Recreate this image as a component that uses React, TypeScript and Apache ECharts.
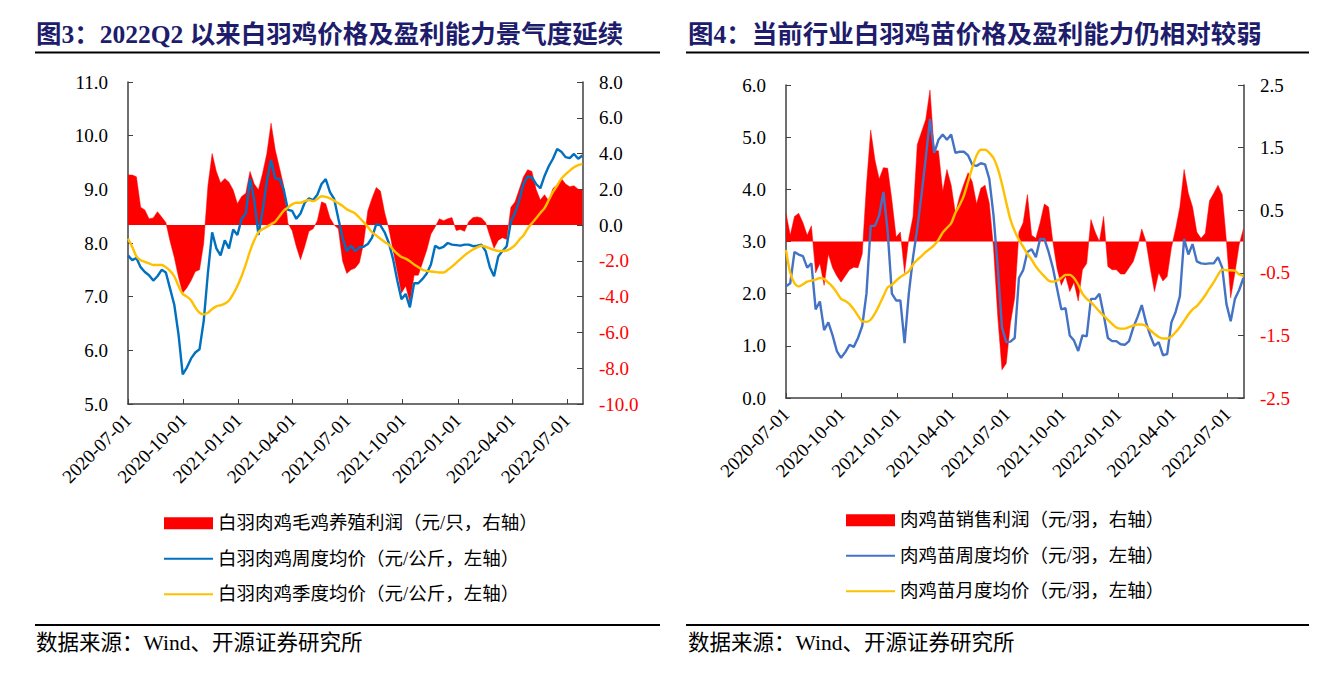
import React, { useEffect, useRef } from "react";
import * as echarts from "echarts";

// ---------- data ----------
const START = [2020, 6, 1];
const N_WEEKS = 109;
const weekDates: number[] = Array.from({ length: N_WEEKS }, (_, i) => +new Date(START[0], START[1], START[2] + 7 * i));
const quarterTicks: number[] = [
  +new Date(2020, 6, 1), +new Date(2020, 9, 1), +new Date(2021, 0, 1), +new Date(2021, 3, 1),
  +new Date(2021, 6, 1), +new Date(2021, 9, 1), +new Date(2022, 0, 1), +new Date(2022, 3, 1),
  +new Date(2022, 6, 1),
];
const xMin = +new Date(2020, 6, 1);
const xMax = +new Date(2022, 6, 28);

// Figure 3 (left)
const broilerProfit = [
  2.8, 2.8, 2.7, 1.0, 0.85, 0.35, 0.4, 0.75, 0.45, 0.15,
  -0.9, -1.8, -2.9, -3.8, -3.5, -3.1, -2.6, -2.5, -1.0, 2.2,
  4.0, 3.0, 2.35, 2.6, 2.4, 1.96, 1.2, 1.6, 1.78, 3.0,
  2.3, 1.98, 2.9, 4.0, 5.7, 4.2, 3.2, 2.2, 0.1, -0.3,
  -1.2, -1.93, -1.2, -0.35, -0.2, 0.25, 1.3, 1.2, 0.4, 0,
  -0.2, -2.0, -2.7, -2.5, -2.4, -2.1, -1.0, 0.8, 1.5, 2.1,
  1.9, 0.7, -0.2, -1.4, -2.6, -3.8, -3.4, -4.3, -2.8, -2.8,
  -2.1, -1.4, -0.5, -0.1, 0.35, 0.25, 0.35, 0.42, -0.3, -0.25,
  -0.35, 0.2, 0.42, 0.46, 0.4, 0.15, -0.6, -1.3, -0.85, -0.7,
  -0.8, 1.0, 1.3, 2.0, 2.7, 3.1, 3.0, 2.0, 1.4, 1.7,
  1.35, 2.05, 2.25, 2.6, 2.3, 2.15, 2.2, 2.0, 1.96,
];
const broilerWeekly = [
  7.77, 7.68, 7.72, 7.55, 7.46, 7.40, 7.30, 7.38, 7.50, 7.45,
  7.15, 6.85, 6.3, 5.55, 5.68, 5.85, 5.96, 6.02, 6.55, 7.45,
  8.2, 7.9, 7.77, 8.05, 7.9, 8.25, 8.15, 8.45, 8.55, 9.2,
  8.8, 8.15, 8.6, 9.15, 9.55, 9.2, 9.2, 9.0, 8.62, 8.6,
  8.45, 8.55, 8.75, 8.83, 8.8, 8.9, 9.1, 9.19, 8.95, 8.82,
  8.45, 8.1, 7.85, 7.95, 7.85, 7.92, 7.93, 7.98, 8.1, 8.35,
  8.33, 8.2, 8.0, 7.7, 7.3, 6.95, 7.05, 6.8, 7.25, 7.25,
  7.33, 7.43, 7.6, 7.95, 7.9, 7.93, 8.0, 7.97, 7.96, 7.95,
  7.97, 7.97, 7.94, 7.95, 7.97, 7.85, 7.55, 7.38, 7.75, 7.85,
  7.94, 8.4, 8.56, 8.8, 9.1, 9.24, 9.22, 9.1, 9.02, 9.25,
  9.43, 9.57, 9.75, 9.7, 9.6, 9.58, 9.66, 9.57, 9.63,
];
const broilerQuarterly = [
  8.08, 7.93, 7.75, 7.68, 7.65, 7.62, 7.59, 7.59, 7.59, 7.55,
  7.48, 7.38, 7.2, 7.05, 7.0, 6.93, 6.8, 6.7, 6.67, 6.7,
  6.77, 6.82, 6.84, 6.87, 6.93, 7.05, 7.2, 7.38, 7.6, 7.85,
  8.05, 8.2, 8.26, 8.3, 8.35, 8.4, 8.5, 8.6, 8.66, 8.72,
  8.75, 8.75, 8.78, 8.8, 8.78, 8.82, 8.87, 8.86, 8.83, 8.79,
  8.74, 8.69, 8.63, 8.59, 8.55, 8.47, 8.39, 8.3, 8.2, 8.14,
  8.08, 8.02, 7.97, 7.88, 7.8, 7.74, 7.71, 7.66, 7.6, 7.55,
  7.5, 7.48, 7.47, 7.46, 7.45, 7.45, 7.5, 7.56, 7.63, 7.7,
  7.77, 7.83, 7.88, 7.92, 7.95, 7.93, 7.9, 7.87, 7.85, 7.85,
  7.86, 7.9, 7.96, 8.06, 8.14, 8.27, 8.37, 8.46, 8.56, 8.65,
  8.8, 8.95, 9.07, 9.2, 9.28, 9.35, 9.41, 9.45, 9.47,
];

// Figure 4 (right)
const chickProfit = [
  0.45, 0.1, 0.4, 0.45, 0.3, 0.1, 0.25, -0.5, -0.35, -0.7,
  -0.2, -0.42, -0.55, -0.65, -0.55, -0.45, -0.41, -0.42, -0.2, 0.9,
  1.78, 1.3, 1.0, 1.18, 1.17, 0.66, 0.07, 0.15, -0.5, 0.05,
  0.4, 1.55, 1.75, 1.95, 2.42, 1.45, 1.45, 0.8, 1.15, 0.9,
  0.45, 0.72, 0.92, 1.1, 0.95, 0.6, 0.85, 0.9, 0.61, -0.1,
  -1.2, -2.05, -1.95, -1.3, -0.9, 0.15, 0.3, 0.75, 0.1, 0.05,
  0.3, 0.6, 0.55, 0.0, -0.43, -0.7, -0.55, -0.8, -0.65, -0.95,
  -0.45, -0.35, 0.35, 0.15, 0.0, 0.4, -0.4, -0.45, -0.45, -0.52,
  -0.52, -0.42, -0.32, -0.1, 0.2, 0.0, -0.42, -0.8, -0.5, -0.63,
  -0.56, -0.1, 0.2, 0.55, 1.15, 0.77, 0.55, 0.15, 0.05, 0.13,
  0.65, 0.77, 0.9, 0.75, 0.0, -0.9, -0.5, -0.05, 0.2,
];
const chickWeekly = [
  2.14, 2.2, 2.8, 2.75, 2.72, 2.5, 2.58, 1.7, 1.85, 1.3,
  1.45, 1.2, 0.9, 0.77, 0.88, 1.02, 0.98, 1.15, 1.38, 2.0,
  3.3, 3.3, 3.5, 3.95, 3.2, 2.0, 1.87, 1.87, 1.05, 2.0,
  2.7, 3.25, 3.9, 4.6, 5.35, 4.7, 4.95, 5.05, 4.95, 5.05,
  4.7, 4.72, 4.72, 4.65, 4.47, 4.45, 4.5, 4.48, 4.2, 3.5,
  2.5, 1.35, 1.07, 1.08, 1.15, 2.3, 2.45, 2.8, 2.85, 2.7,
  3.05, 3.05, 2.8, 2.5, 2.1, 1.7, 1.72, 1.2, 1.1, 0.9,
  1.2, 1.18, 1.9, 1.9, 2.0, 1.6, 1.15, 1.09, 1.09, 1.03,
  1.02, 1.09, 1.35, 1.55, 1.78, 1.45, 1.2, 1.0, 1.07, 0.82,
  0.84, 1.45, 1.65, 1.95, 3.05, 2.75, 2.95, 2.62, 2.58, 2.57,
  2.58, 2.58, 2.7, 2.5, 1.8, 1.47, 1.9, 2.07, 2.3,
];
const chickMonthly = [
  2.84, 2.4, 2.2, 2.14, 2.18, 2.23, 2.25, 2.27, 2.3, 2.28,
  2.21, 2.13, 2.02, 1.9, 1.86, 1.8, 1.7, 1.58, 1.47, 1.46,
  1.5, 1.62, 1.78, 1.95, 2.12, 2.17, 2.25, 2.32, 2.37, 2.43,
  2.56, 2.65, 2.72, 2.8, 2.86, 2.93, 3.03, 3.17, 3.26, 3.35,
  3.55, 3.7, 3.88, 4.15, 4.42, 4.65, 4.76, 4.76, 4.7, 4.6,
  4.4, 4.1, 3.75, 3.42, 3.2, 3.03, 2.9, 2.76, 2.65, 2.52,
  2.42, 2.33, 2.25, 2.23, 2.25, 2.3, 2.36, 2.36, 2.3, 2.17,
  2.0, 1.9, 1.84, 1.75, 1.66, 1.58, 1.5, 1.42, 1.35, 1.33,
  1.33, 1.36, 1.39, 1.41, 1.41, 1.38, 1.3, 1.23, 1.17, 1.14,
  1.14, 1.18, 1.26, 1.36, 1.48, 1.6, 1.7, 1.76, 1.86, 1.97,
  2.1, 2.22, 2.36, 2.46, 2.45, 2.45, 2.44, 2.37, 2.34,
];

const rightTicks4 = [-2.5, -1.5, -0.5, 0.5, 1.5, 2.5];

const names3 = [
  "白羽肉鸡毛鸡养殖利润（元/只，右轴）",
  "白羽肉鸡周度均价（元/公斤，左轴）",
  "白羽肉鸡季度均价（元/公斤，左轴）",
];
const names4 = [
  "肉鸡苗销售利润（元/羽，右轴）",
  "肉鸡苗周度均价（元/羽，左轴）",
  "肉鸡苗月度均价（元/羽，左轴）",
];

const titles = [
  "图3：2022Q2 以来白羽鸡价格及盈利能力景气度延续",
  "图4：当前行业白羽鸡苗价格及盈利能力仍相对较弱",
];
const sourceText = "数据来源：Wind、开源证券研究所";

// ---------- style ----------
const FONT = "'Liberation Serif', 'Noto Sans CJK SC', serif";
const RED = "#FF0000";
const AXIS_COLOR = "#404040";
const AXIS_FONT = 19;

const pair = (vals: number[]) => vals.map((v, i) => [weekDates[i], v]);

const pad2 = (n: number) => (n < 10 ? "0" + n : "" + n);
const fmtDate = (v: number) => {
  const d = new Date(v);
  return `${d.getFullYear()}-${pad2(d.getMonth() + 1)}-${pad2(d.getDate())}`;
};

function xAxisFor(gridIndex: number) {
  return {
    type: "value",
    gridIndex,
    min: xMin,
    max: xMax,
    axisLine: { show: true, onZero: false, lineStyle: { color: AXIS_COLOR, width: 1.5 } },
    axisTick: { show: true, inside: true, length: 5, customValues: quarterTicks, lineStyle: { color: AXIS_COLOR } },
    axisLabel: {
      customValues: quarterTicks,
      rotate: 45,
      margin: 13,
      fontSize: AXIS_FONT,
      fontFamily: FONT,
      color: "#000",
      formatter: (v: number) => fmtDate(v),
    },
    splitLine: { show: false },
  };
}

function leftY(gridIndex: number, min: number, max: number) {
  return {
    type: "value",
    gridIndex,
    position: "left",
    min,
    max,
    interval: 1,
    axisLine: { show: true, onZero: false, lineStyle: { color: AXIS_COLOR, width: 1.5 } },
    axisTick: { show: true, inside: true, length: 5, lineStyle: { color: AXIS_COLOR } },
    axisLabel: { margin: 20, fontSize: AXIS_FONT, fontFamily: FONT, color: "#000", formatter: (v: number) => v.toFixed(1) },
    splitLine: { show: false },
  };
}

function rightY(gridIndex: number, min: number, max: number, extra: any) {
  return {
    type: "value",
    gridIndex,
    position: "right",
    min,
    max,
    axisLine: { show: true, onZero: false, lineStyle: { color: AXIS_COLOR, width: 1.5 } },
    axisTick: { show: true, inside: true, length: 6, lineStyle: { color: AXIS_COLOR }, ...(extra.tick || {}) },
    axisLabel: {
      margin: 16,
      fontSize: AXIS_FONT,
      fontFamily: FONT,
      color: (v: any) => (Number(v) < 0 ? RED : "#000"),
      formatter: (v: number) => Number(v).toFixed(1),
      ...(extra.label || {}),
    },
    splitLine: { show: false },
    ...(extra.axis || {}),
  };
}

function areaSeries(name: string, data: number[], xi: number, yi: number) {
  return {
    name,
    type: "line",
    xAxisIndex: xi,
    yAxisIndex: yi,
    data: pair(data),
    symbol: "none",
    lineStyle: { width: 0.5, color: RED },
    itemStyle: { color: RED },
    areaStyle: { color: RED, opacity: 1, origin: 0 },
    z: 1,
  };
}

function lineSeries(name: string, data: number[], xi: number, yi: number, color: string, smooth: boolean) {
  return {
    name,
    type: "line",
    xAxisIndex: xi,
    yAxisIndex: yi,
    data: pair(data),
    symbol: "none",
    smooth: smooth ? 0.3 : false,
    lineStyle: { width: 2.4, color },
    itemStyle: { color },
    z: 3,
  };
}

const hiddenMarker = { color: "rgba(0,0,0,0)", borderColor: "rgba(0,0,0,0)", borderWidth: 0 };

function legendFor(names: string[], left: number, top: number) {
  return {
    orient: "vertical",
    left,
    top,
    padding: 0,
    itemWidth: 49,
    itemHeight: 12,
    itemGap: 17,
    selectedMode: false,
    textStyle: { fontSize: 18.5, fontFamily: FONT, color: "#000", lineHeight: 18 },
    data: [
      { name: names[0], icon: "rect" },
      { name: names[1], itemStyle: hiddenMarker },
      { name: names[2], itemStyle: hiddenMarker },
    ],
  };
}

function textEl(text: string, x: number, y: number, font: string, fill: string) {
  return {
    type: "text",
    x,
    y,
    style: { text, font, fill, textAlign: "left", textVerticalAlign: "middle" },
  };
}

function lineEl(x1: number, x2: number, y: number) {
  return {
    type: "line",
    shape: { x1, y1: y, x2, y2: y },
    style: { stroke: "#000", lineWidth: 2 },
  };
}

export default function App() {
  const ref = useRef<HTMLDivElement>(null);

  useEffect(() => {
    if (!ref.current) return;
    const chart = echarts.init(ref.current, null, { renderer: "svg" });
    const titleFont = `bold 25.5px ${FONT}`;
    const srcFont = `21.5px ${FONT}`;
    chart.setOption({
      animation: false,
      backgroundColor: "#fff",
      textStyle: { fontFamily: FONT },
      grid: [
        { left: 128, top: 82, width: 455, height: 322 },
        { left: 786, top: 85, width: 458, height: 313 },
      ],
      xAxis: [xAxisFor(0), xAxisFor(1)],
      yAxis: [
        leftY(0, 5, 11),
        rightY(0, -10, 8, { axis: { interval: 2 } }),
        leftY(1, 0, 6),
        rightY(1, -2.5, 2.5, { tick: { customValues: rightTicks4 }, label: { customValues: rightTicks4 } }),
      ],
      legend: [legendFor(names3, 163, 514), legendFor(names4, 845, 511)],
      series: [
        areaSeries(names3[0], broilerProfit, 0, 1),
        lineSeries(names3[1], broilerWeekly, 0, 0, "#0070C0", false),
        lineSeries(names3[2], broilerQuarterly, 0, 0, "#FFC000", true),
        areaSeries(names4[0], chickProfit, 1, 3),
        lineSeries(names4[1], chickWeekly, 1, 2, "#4472C4", false),
        lineSeries(names4[2], chickMonthly, 1, 2, "#FFC000", true),
      ],
      graphic: [
        textEl(titles[0], 36, 34, titleFont, "#201C6C"),
        textEl(titles[1], 688, 34, titleFont, "#201C6C"),
        lineEl(35, 660, 52.5),
        lineEl(686, 1309, 52.5),
        lineEl(35, 660, 625),
        lineEl(686, 1309, 625),
        textEl(sourceText, 36, 643, srcFont, "#000"),
        textEl(sourceText, 688, 643, srcFont, "#000"),
      ],
    });
    return () => chart.dispose();
  }, []);

  return (
    <div
      ref={ref}
      style={{ position: "absolute", left: 0, top: 0, width: 1324, height: 677, background: "#fff" }}
    />
  );
}
